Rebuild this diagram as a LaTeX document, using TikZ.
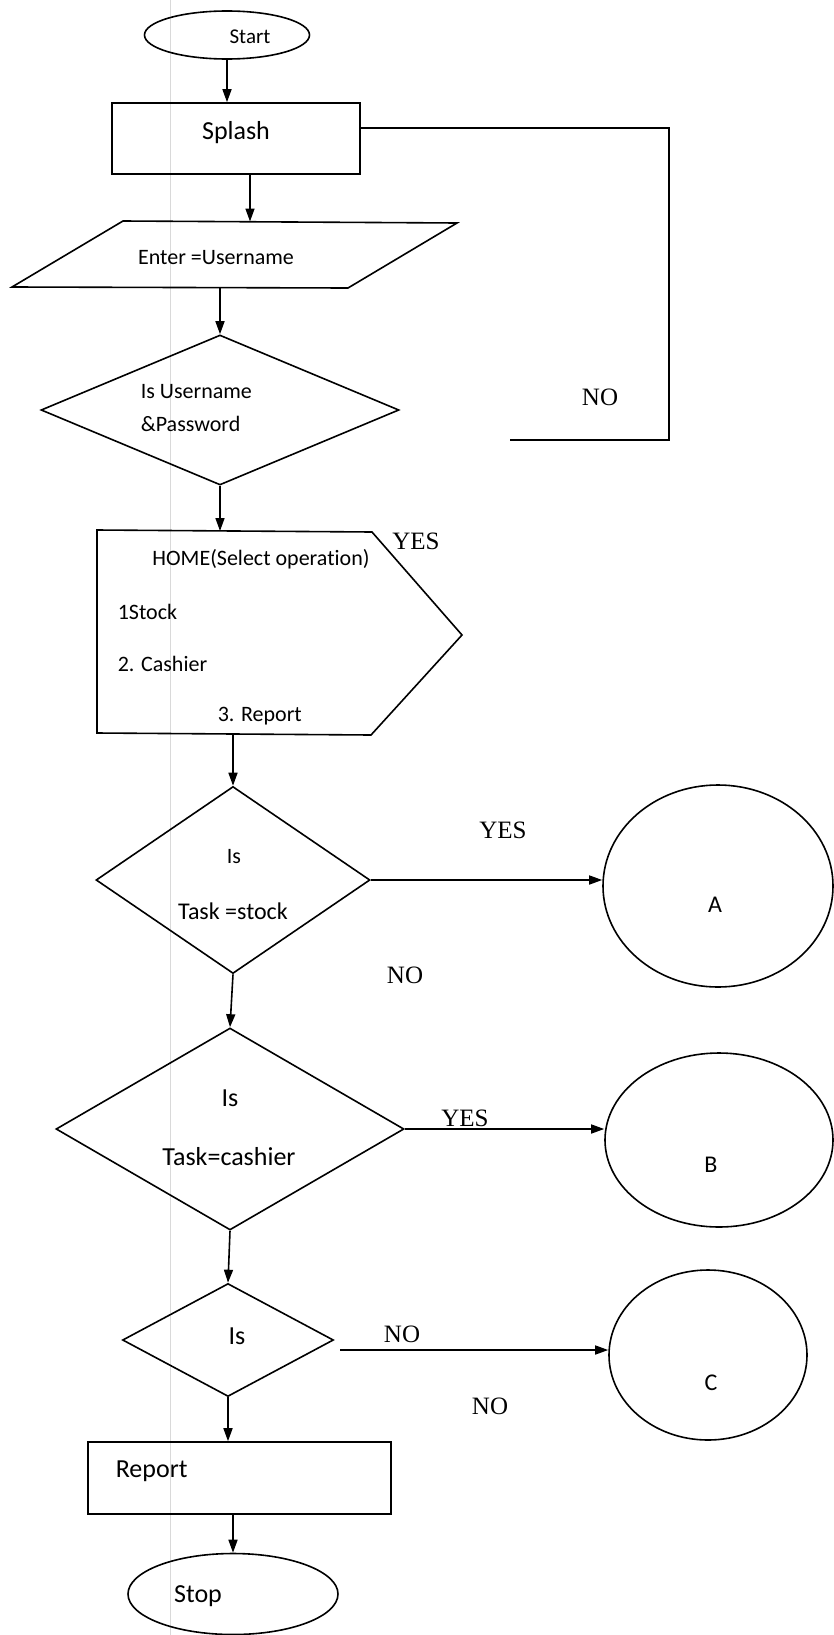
\documentclass[tikz,border=0pt]{standalone}
\usepackage{fontspec}
\setmainfont{Carlito}[Ligatures=NoCommon]
\newfontfamily\serifyn{Liberation Serif}
\usetikzlibrary{shapes.geometric,arrows.meta}
\begin{document}
\begin{tikzpicture}[x=1pt,y=-1pt, line width=1.6pt,
  arr/.style={-{Triangle[length=13pt,width=9pt]}},
  lbl/.style={font=\serifyn\fontsize{25}{28}\selectfont, inner sep=0pt},
  txt/.style={font=\fontsize{22}{26}\selectfont, inner sep=0pt},
  bigtxt/.style={font=\fontsize{26}{30}\selectfont, inner sep=0pt},
  term/.style={draw, ellipse, inner sep=0pt},
  proc/.style={draw, rectangle, inner sep=0pt},
  dec/.style={draw, diamond, inner sep=0pt},
  conn/.style={draw, ellipse, inner sep=0pt}]
\useasboundingbox[fill=white] (0,0) rectangle (834,1635);
% faint scan line
\draw[black!15, line width=1pt] (170,0) -- (170,1635);

% Start
\node[term, minimum width=165pt, minimum height=48pt] (start) at (227,35) {};
\node[txt, font=\fontsize{21}{25}\selectfont] (starttxt) at (250,37) {Start};

% Splash
\node[proc, minimum width=248pt, minimum height=71pt] (splash) at (236,138.5) {};
\node[bigtxt] (splashtxt) at (236,133) {Splash};

% Parallelogram
\coordinate (pTL) at (123,221);
\coordinate (pTR) at (457,223);
\coordinate (pBR) at (348,288);
\coordinate (pBL) at (12,287);
\draw (pTL) -- (pTR) -- (pBR) -- (pBL) -- cycle;
\coordinate (pin) at (250,221.5);
\coordinate (pout) at (220,287.5);
\node[txt] (entertxt) at (216,258) {Enter =Username};

% Decision 1
\node[dec, minimum width=358pt, minimum height=150pt] (d1) at (220,410) {};
\node[txt, anchor=west] (d1a) at (140,392) {Is Username};
\node[txt, anchor=west] (d1b) at (140,424) {\&Password};

% Loop NO
\coordinate (loopA) at (669,128);
\coordinate (loopB) at (669,440);
\coordinate (loopEnd) at (510,440);
\draw (splash.east |- loopA) -- (loopA) -- (loopB) -- (loopEnd);
\node[lbl] (no1) at (600,397) {NO};

% HOME pentagon
\coordinate (hTL) at (97,530);
\coordinate (hTR) at (372,532);
\coordinate (hTip) at (462,635);
\coordinate (hBR) at (371,735);
\coordinate (hBL) at (97,733);
\draw (hTL) -- (hTR) -- (hTip) -- (hBR) -- (hBL) -- cycle;
\coordinate (hin) at (220,531);
\coordinate (hout) at (233,734);
\node[txt] (hometxt) at (261,559) {HOME(Select operation)};
\node[txt, anchor=west] (h1) at (117,612) {1Stock};
\node[txt, anchor=west] (h2) at (117,664) {2. Cashier};
\node[txt, anchor=west] (h3) at (217,716) {3. Report};
\node[lbl] (yes1) at (416,541) {YES};

% Decision 2
\node[dec, minimum width=274pt, minimum height=187pt] (d2) at (233,880) {};
\node[txt] (d2a) at (234,857) {Is};
\node[txt, font=\fontsize{24}{28}\selectfont] (d2b) at (233,911) {Task =stock};
\node[conn, minimum width=230pt, minimum height=202pt] (A) at (718,886) {};
\node[txt, font=\fontsize{24}{28}\selectfont] (Atxt) at (715,905) {A};
\node[lbl] (yes2) at (503,830) {YES};
\node[lbl] (no2) at (405,975) {NO};

% Decision 3
\node[dec, minimum width=348pt, minimum height=202pt] (d3) at (230,1129) {};
\node[bigtxt] (d3a) at (230,1098) {Is};
\node[bigtxt] (d3b) at (229,1157) {Task=cashier};
\node[conn, minimum width=228pt, minimum height=174pt] (B) at (719,1140) {};
\node[txt, font=\fontsize{24}{28}\selectfont] (Btxt) at (711,1165) {B};
\node[lbl] (yes3) at (465,1118) {YES};

% Decision 4
\node[dec, minimum width=211pt, minimum height=113pt] (d4) at (228,1340) {};
\node[bigtxt] (d4a) at (237,1336) {Is};
\coordinate (d4out) at (340,1350);
\node[conn, minimum width=198pt, minimum height=170pt] (C) at (708,1355) {};
\node[txt, font=\fontsize{24}{28}\selectfont] (Ctxt) at (711,1383) {C};
\node[lbl] (no3) at (402,1334) {NO};
\node[lbl] (no4) at (490,1406) {NO};

% Report and Stop
\node[proc, minimum width=303pt, minimum height=72pt] (report) at (239.5,1478) {};
\node[bigtxt, anchor=west] (reporttxt) at (115,1471) {Report};
\node[term, minimum width=210pt, minimum height=81pt] (stop) at (233,1594) {};
\node[bigtxt] (stoptxt) at (198,1596) {Stop};

% Connectors
\draw[arr] (start.south) -- (start.south |- splash.north);
\draw[arr] (splash.south -| pin) -- (pin);
\draw[arr] (pout) -- (d1.north);
\draw[arr] (d1.south) -- (hin);
\draw[arr] (hout) -- (d2.north);
\draw[arr] (d2.east) -- (d2.east -| A.west);
\draw[arr] (d2.south) -- (d3.north);
\draw[arr] (d3.east) -- (d3.east -| B.west);
\draw[arr] (d3.south) -- (d4.north);
\draw[arr] (d4out) -- (d4out -| C.west);
\draw[arr] (d4.south) -- (d4.south |- report.north);
\draw[arr] (stop.north |- report.south) -- (stop.north);
\end{tikzpicture}
\end{document}
